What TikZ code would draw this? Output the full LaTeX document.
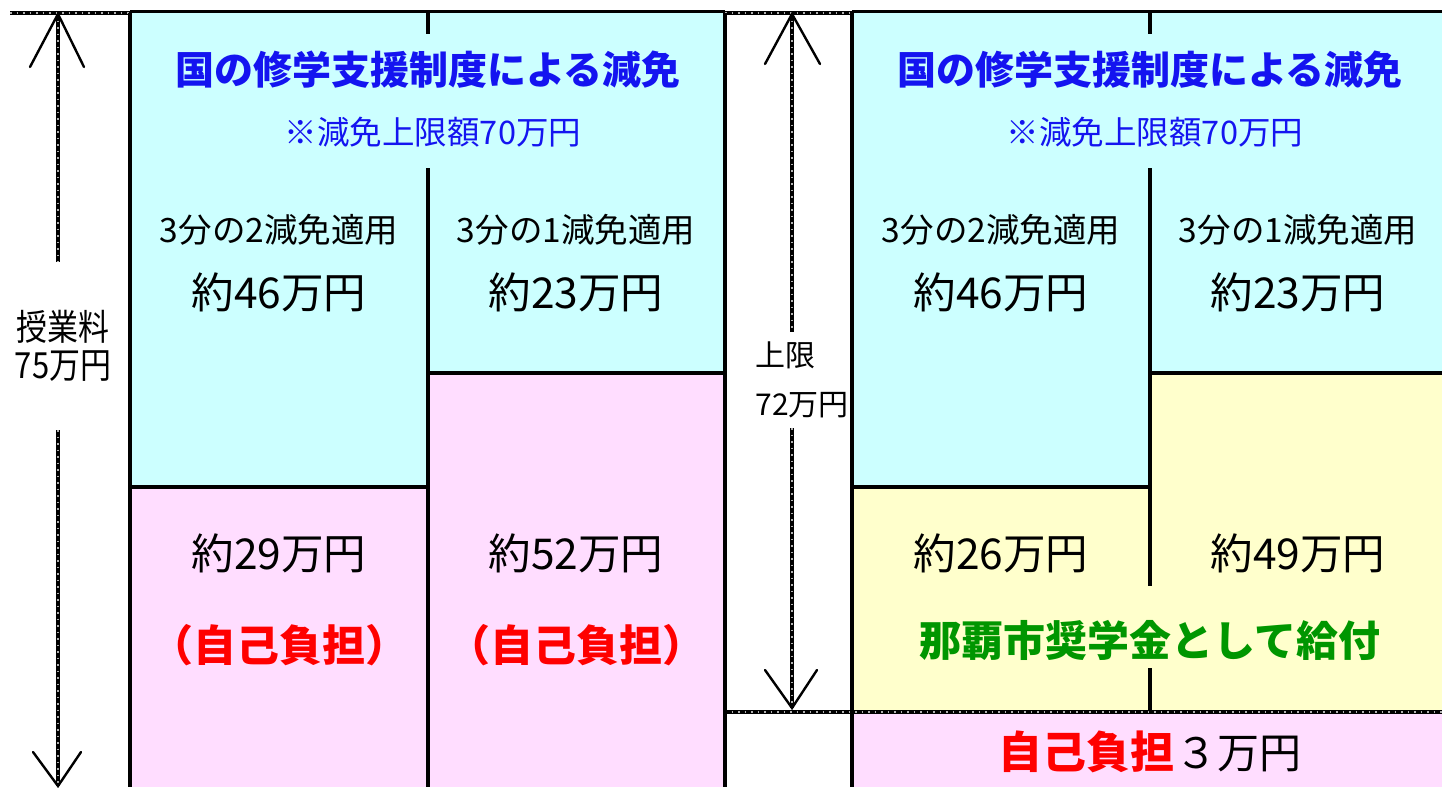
\documentclass[tikz,border=0pt]{standalone}
\usepackage{fontspec}
\setmainfont{Noto Sans CJK JP}
\newfontfamily\narrowjp{Noto Sans CJK JP}[FakeStretch=0.86]
\definecolor{cyanbg}{HTML}{CCFFFF}
\definecolor{pinkbg}{HTML}{FFDDFF}
\definecolor{yellowbg}{HTML}{FFFFCC}
\definecolor{titleblue}{RGB}{20,20,240}
\definecolor{redtxt}{RGB}{255,0,0}
\definecolor{greentxt}{RGB}{0,150,0}
\tikzset{
  frame/.style={line width=3.5pt},
  hatch/.style={line width=4pt, draw=black, postaction={draw=white!70!black, line width=1.2pt, dash pattern=on 1.5pt off 5pt}},
  vline/.style={line width=2.4pt, line cap=round},
  title/.style={text=titleblue, font=\fontsize{39}{39}\selectfont\bfseries},
  note/.style={text=titleblue, font=\fontsize{32.5}{32.5}\selectfont},
  sub/.style={font=\fontsize{33.5}{33.5}\selectfont},
  amount/.style={font=\fontsize{42.5}{42.5}\selectfont},
  self/.style={text=redtxt, font=\fontsize{43}{43}\selectfont\bfseries},
  grant/.style={text=greentxt, font=\fontsize{42}{42}\selectfont\bfseries},
  side/.style={font=\fontsize{36}{36}\selectfont\narrowjp},
  lim/.style={font=\fontsize{30}{30}\selectfont, anchor=west},
}
\begin{document}
\begin{tikzpicture}[x=1pt,y=-1pt]
\useasboundingbox (0,0) rectangle (1442,787);
% fills
\fill[cyanbg] (130,13) rectangle (428,487);
\fill[pinkbg] (130,487) rectangle (428,787);
\fill[cyanbg] (428,13) rectangle (725,373);
\fill[pinkbg] (428,373) rectangle (725,787);
\fill[cyanbg] (852,13) rectangle (1150,487);
\fill[cyanbg] (1150,13) rectangle (1442,373);
\fill[yellowbg] (852,487) rectangle (1150,712);
\fill[yellowbg] (1150,373) rectangle (1442,712);
\fill[pinkbg] (852,712) rectangle (1442,787);
% dashed guide lines
\draw[hatch] (10,13) -- (130,13);
\draw[hatch] (725,13) -- (852,13);
\draw[hatch] (725,712) -- (1442,712);
% frame lines left panel
\draw[frame] (130,11.5) -- (725,11.5);
\draw[frame] (130,13) -- (130,787);
\draw[frame] (725,13) -- (725,787);
\draw[frame] (428,13) -- (428,34);
\draw[frame] (428,168) -- (428,787);
\draw[frame] (130,487) -- (428,487);
\draw[frame] (428,373) -- (725,373);
% right panel
\draw[frame] (852,11.5) -- (1442,11.5);
\draw[frame] (852,13) -- (852,787);
\draw[frame] (1150,13) -- (1150,34);
\draw[frame] (1150,168) -- (1150,586);
\draw[frame] (1150,668) -- (1150,710);
\draw[frame] (852,487) -- (1150,487);
\draw[frame] (1150,373) -- (1442,373);

% left arrow
\coordinate (LT) at (58,14);
\coordinate (LTa) at (58,262);
\coordinate (LBa) at (58,430);
\coordinate (LB) at (58,786);
\draw[hatch] (LT) -- (LTa);
\draw[hatch] (LBa) -- (LB);
\draw[vline] (30,67) -- (LT) -- (84,67);
\draw[vline] (33,752) -- (LB) -- (81,752);
\node[side] (tuition1) at (63,327) {授業料};
\node[side] (tuition2) at (63,366) {75万円};

% middle arrow
\coordinate (MT) at (792,14);
\coordinate (MTa) at (792,332);
\coordinate (MBa) at (792,428);
\coordinate (MB) at (792,708);
\draw[hatch] (MT) -- (MTa);
\draw[hatch] (MBa) -- (MB);
\draw[vline] (765,64) -- (MT) -- (820,64);
\draw[vline] (765,670) -- (MB) -- (817,670);
\node[lim] (lim1) at (752,355) {上限};
\node[lim] (lim2) at (752,405) {72万円};

% left panel texts
\node[title] (t1) at (428,70) {国の修学支援制度による減免};
\node[note] (n1) at (433,132) {※減免上限額70万円};
\node[sub] (a1) at (279,230) {3分の2減免適用};
\node[amount] (a2) at (279,292) {約46万円};
\node[sub] (b1) at (576,230) {3分の1減免適用};
\node[amount] (b2) at (576,292) {約23万円};
\node[amount] (a3) at (279,553) {約29万円};
\node[self] (a4) at (279,645) {（自己負担）};
\node[amount] (b3) at (576,553) {約52万円};
\node[self] (b4) at (576,645) {（自己負担）};

% right panel texts
\node[title] (t2) at (1150,70) {国の修学支援制度による減免};
\node[note] (n2) at (1155,132) {※減免上限額70万円};
\node[sub] (c1) at (1001,230) {3分の2減免適用};
\node[amount] (c2) at (1001,292) {約46万円};
\node[sub] (d1) at (1298,230) {3分の1減免適用};
\node[amount] (d2) at (1298,292) {約23万円};
\node[amount] (c3) at (1001,553) {約26万円};
\node[amount] (d3) at (1298,553) {約49万円};
\node[grant] (g) at (1150,640) {那覇市奨学金として給付};
\node (own) at (1150,752) {{\color{redtxt}\fontsize{44}{44}\selectfont\bfseries 自己負担}\,{\fontsize{42}{42}\selectfont ３万円}};
\end{tikzpicture}
\end{document}
